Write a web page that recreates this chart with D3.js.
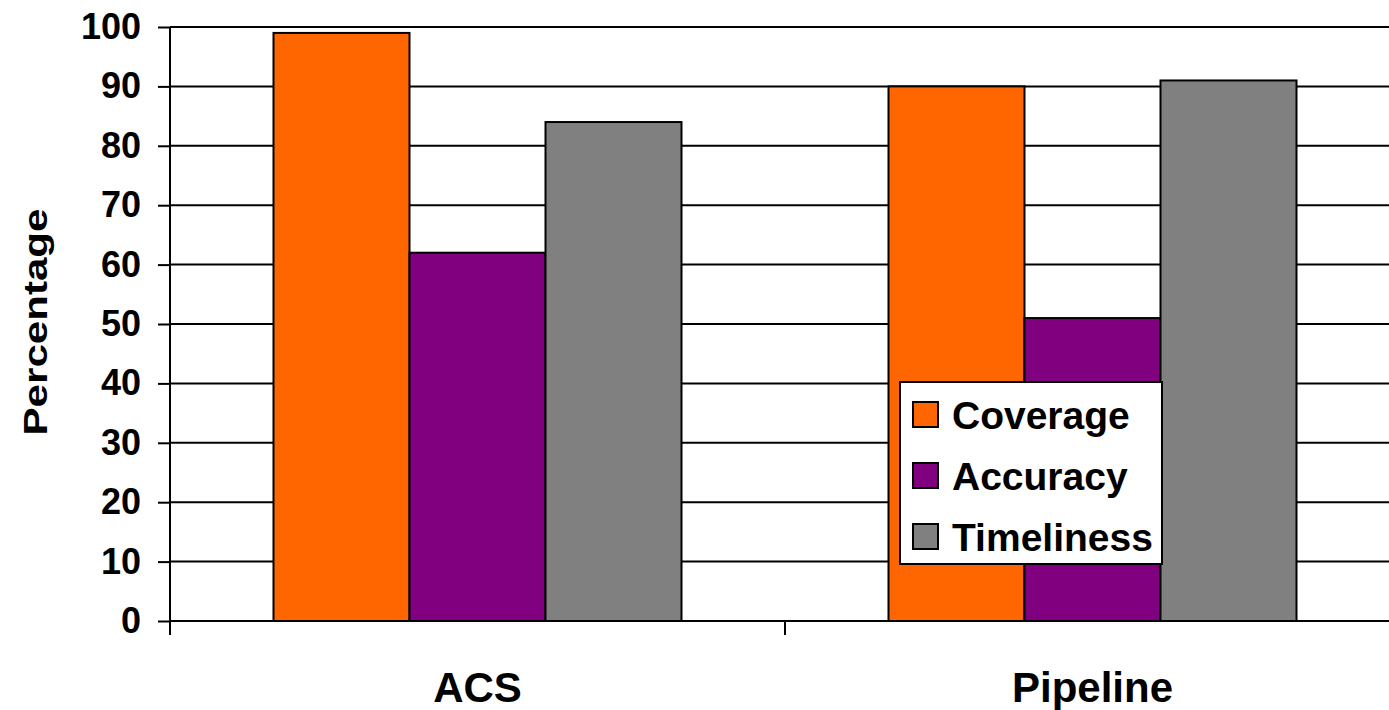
<!DOCTYPE html>
<html>
<head>
<meta charset="utf-8">
<script src="https://cdn.jsdelivr.net/npm/d3@7"></script>
<style>
  html, body { margin: 0; padding: 0; background: #fff; }
  svg { display: block; }
  text { font-family: "Liberation Sans", Arial, sans-serif; font-weight: bold; fill: #000; }
</style>
</head>
<body>
<svg id="chart" width="1389" height="710"></svg>
<script>
// Data
const categories = ["ACS", "Pipeline"];
const seriesNames = ["Coverage", "Accuracy", "Timeliness"];
const coverage = [99, 90];
const accuracy = [62, 51];
const timeliness = [84, 91];
const yTicks = [0, 10, 20, 30, 40, 50, 60, 70, 80, 90, 100];
const seriesColors = ["#FF6600", "#800080", "#808080"];

const seriesValues = [coverage, accuracy, timeliness];
const rows = categories.map((c, i) => ({
  category: c,
  values: seriesNames.map((s, k) => ({ series: s, value: seriesValues[k][i] }))
}));

const svg = d3.select("#chart");
const plotLeft = 170, plotRight = 1400, plotTop = 27, plotBottom = 621;

const x0 = d3.scaleBand().domain(categories).range([plotLeft, plotRight]).paddingInner(0).paddingOuter(0);
const x1 = d3.scaleBand().domain(seriesNames).range([0, x0.bandwidth()]).paddingInner(0).paddingOuter(0.761);
const y = d3.scaleLinear().domain([0, 100]).range([plotBottom, plotTop]);
const color = d3.scaleOrdinal().domain(seriesNames).range(seriesColors);

// Horizontal gridlines
svg.append("g")
  .selectAll("line")
  .data(yTicks.filter(d => d > 0))
  .join("line")
  .attr("x1", plotLeft).attr("x2", plotRight)
  .attr("y1", d => y(d)).attr("y2", d => y(d))
  .attr("stroke", "#000").attr("stroke-width", 2);

// Y axis
const yAxis = svg.append("g")
  .attr("transform", `translate(${plotLeft},0)`)
  .call(d3.axisLeft(y).tickValues(yTicks).tickSize(12).tickPadding(17));
yAxis.select(".domain").remove();
yAxis.selectAll(".tick line").attr("stroke", "#000").attr("stroke-width", 2);
yAxis.selectAll(".tick text")
  .attr("font-size", 36)
  .attr("font-family", "'Liberation Sans', Arial, sans-serif")
  .attr("font-weight", "bold")
  .attr("fill", "#000");
svg.append("line")
  .attr("x1", plotLeft).attr("x2", plotLeft)
  .attr("y1", plotTop).attr("y2", plotBottom + 14)
  .attr("stroke", "#000").attr("stroke-width", 2);

// Bars
const groups = svg.append("g")
  .selectAll("g")
  .data(rows)
  .join("g")
  .attr("transform", d => `translate(${x0(d.category)},0)`);

groups.selectAll("rect")
  .data(d => d.values)
  .join("rect")
  .attr("x", d => x1(d.series))
  .attr("width", x1.bandwidth())
  .attr("y", d => y(d.value))
  .attr("height", d => y(0) - y(d.value))
  .attr("fill", d => color(d.series))
  .attr("stroke", "#000")
  .attr("stroke-width", 2);

// X axis
svg.append("line")
  .attr("x1", plotLeft).attr("x2", plotRight)
  .attr("y1", plotBottom).attr("y2", plotBottom)
  .attr("stroke", "#000").attr("stroke-width", 2);
const boundaries = categories.slice(1).map(c => x0(c)).concat([plotRight]);
svg.append("g")
  .selectAll("line")
  .data(boundaries)
  .join("line")
  .attr("x1", d => d).attr("x2", d => d)
  .attr("y1", plotBottom).attr("y2", plotBottom + 14)
  .attr("stroke", "#000").attr("stroke-width", 2);

svg.append("g")
  .selectAll("text")
  .data(categories)
  .join("text")
  .attr("x", d => x0(d) + x0.bandwidth() / 2)
  .attr("y", 702)
  .attr("text-anchor", "middle")
  .attr("font-size", 42)
  .text(d => d);

// Y axis title
svg.append("text")
  .attr("transform", "translate(47,322) rotate(-90)")
  .attr("text-anchor", "middle")
  .attr("font-size", 34)
  .attr("textLength", 227)
  .attr("lengthAdjust", "spacingAndGlyphs")
  .text("Percentage");

// Legend
const legend = svg.append("g").attr("transform", "translate(900,382)");
legend.append("rect")
  .attr("width", 262).attr("height", 182)
  .attr("fill", "#fff").attr("stroke", "#000").attr("stroke-width", 2);
const item = legend.selectAll("g.item")
  .data(seriesNames)
  .join("g")
  .attr("class", "item")
  .attr("transform", (d, i) => `translate(0,${20 + i * 61})`);
item.append("rect")
  .attr("x", 13).attr("width", 25).attr("height", 25)
  .attr("fill", d => color(d))
  .attr("stroke", "#000").attr("stroke-width", 2);
item.append("text")
  .attr("x", 52).attr("y", 27)
  .attr("font-size", 39)
  .text(d => d);
</script>
</body>
</html>
